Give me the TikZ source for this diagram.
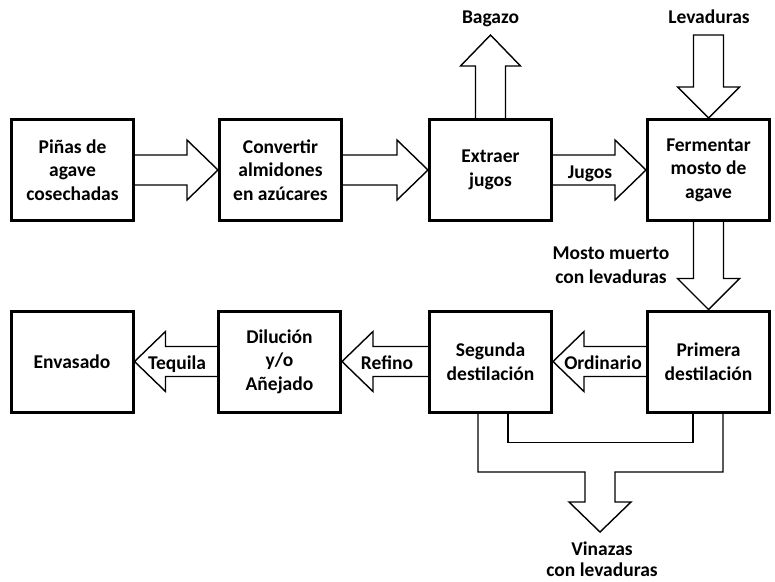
\documentclass[tikz,border=0pt]{standalone}
\usepackage{fontspec}
\setmainfont{Carlito}
\usetikzlibrary{calc}
\newcommand\labelfont{\fontsize{19.5}{23.5}\selectfont\bfseries}
\tikzset{
  proc/.style={draw, line width=3pt, minimum width=122pt, minimum height=101pt,
    align=center, inner sep=2pt, font=\labelfont},
  flow/.style={draw, line width=1.4pt, line join=miter},
  txt/.style={align=center, font=\labelfont, inner sep=0pt, anchor=base},
}
% hollow block arrow pointing right, from #1.east to #2.west
\newcommand\rightflow[2]{%
  \draw[flow] ($(#1.east)+(0,-15)$) -- ($(#2.west)+(-31,-15)$) -- ($(#2.west)+(-31,-30)$)
    -- (#2.west) -- ($(#2.west)+(-31,30)$) -- ($(#2.west)+(-31,15)$) -- ($(#1.east)+(0,15)$);}
% hollow block arrow pointing left, from #1.west to #2.east
\newcommand\leftflow[2]{%
  \draw[flow] ($(#1.west)+(0,-15)$) -- ($(#2.east)+(31,-15)$) -- ($(#2.east)+(31,-30)$)
    -- (#2.east) -- ($(#2.east)+(31,30)$) -- ($(#2.east)+(31,15)$) -- ($(#1.west)+(0,15)$);}
\begin{document}
\begin{tikzpicture}[x=1pt, y=-1pt]
\useasboundingbox (0,0) rectangle (775,581);

% process boxes
\node[proc] (pinas)     at (72.5,170)  {Piñas de\\agave\\cosechadas};
\node[proc] (convertir) at (280.5,170) {Convertir\\almidones\\en azúcares};
\node[proc] (extraer)   at (490.5,170) {Extraer\\jugos};
\node[proc] (fermentar) at (708.5,170) {Fermentar\\mosto de\\agave};
\node[proc] (envasado)  at (72,361.5)  {Envasado};
\node[proc] (dilucion)  at (279.5,361.5) {Dilución\\y/o\\Añejado};
\node[proc] (segunda)   at (490.5,361.5) {Segunda\\destilación};
\node[proc] (primera)   at (708.5,361.5) {Primera\\destilación};

% main flow
\rightflow{pinas}{convertir}
\rightflow{convertir}{extraer}
\rightflow{extraer}{fermentar}
\leftflow{primera}{segunda}
\leftflow{segunda}{dilucion}
\leftflow{dilucion}{envasado}

\node[txt] (jugos)     at (590,178)   {Jugos};
\node[txt] (ordinario) at (603,369)   {Ordinario};
\node[txt] (refino)    at (387,369)   {Refino};
\node[txt] (tequila)   at (177,369)   {Tequila};

% bagasse out of the extraction
\coordinate (bagtip) at (490.5,35);
\draw[flow] ($(extraer.north)+(-15,0)$) -- ($(bagtip)+(-15,31)$) -- ($(bagtip)+(-30,31)$)
  -- (bagtip) -- ($(bagtip)+(30,31)$) -- ($(bagtip)+(15,31)$) -- ($(extraer.north)+(15,0)$);
\node[txt] (bagazo) at (490.5,23) {Bagazo};

% yeast into the fermentation
\coordinate (levtop) at (708.5,35);
\draw[flow] ($(levtop)+(-15,0)$) -- ($(fermentar.north)+(-15,-31)$) -- ($(fermentar.north)+(-31,-31)$)
  -- (fermentar.north) -- ($(fermentar.north)+(31,-31)$) -- ($(fermentar.north)+(15,-31)$)
  -- ($(levtop)+(15,0)$) -- cycle;
\node[txt] (levaduras) at (709,23) {Levaduras};

% fermented must to the first distillation
\draw[flow] ($(fermentar.south)+(-15,0)$) -- ($(primera.north)+(-15,-31)$) -- ($(primera.north)+(-31,-31)$)
  -- (primera.north) -- ($(primera.north)+(31,-31)$) -- ($(primera.north)+(15,-31)$)
  -- ($(fermentar.south)+(15,0)$);
\node[txt, anchor=center] (mosto) at (611,265) {Mosto muerto\\con levaduras};

% stillage from both distillations
\coordinate (vintip) at (600,532);
\draw[flow] ($(segunda.south)+(17.5,0)$) |- ($(primera.south)+(-15.5,29)$) -- ($(primera.south)+(-15.5,0)$);
\draw[flow] ($(segunda.south)+(-12.5,0)$) |- ($(vintip)+(-15,-60)$) -- ($(vintip)+(-15,-30)$)
  -- ($(vintip)+(-31,-30)$) -- (vintip) -- ($(vintip)+(31,-30)$) -- ($(vintip)+(15,-30)$)
  -- ($(vintip)+(15,-60)$) -| ($(primera.south)+(14.5,0)$);
\node[txt, anchor=center, font=\fontsize{19.5}{21}\selectfont\bfseries] (vinazas) at (602,559) {Vinazas\\con levaduras};
\end{tikzpicture}
\end{document}
